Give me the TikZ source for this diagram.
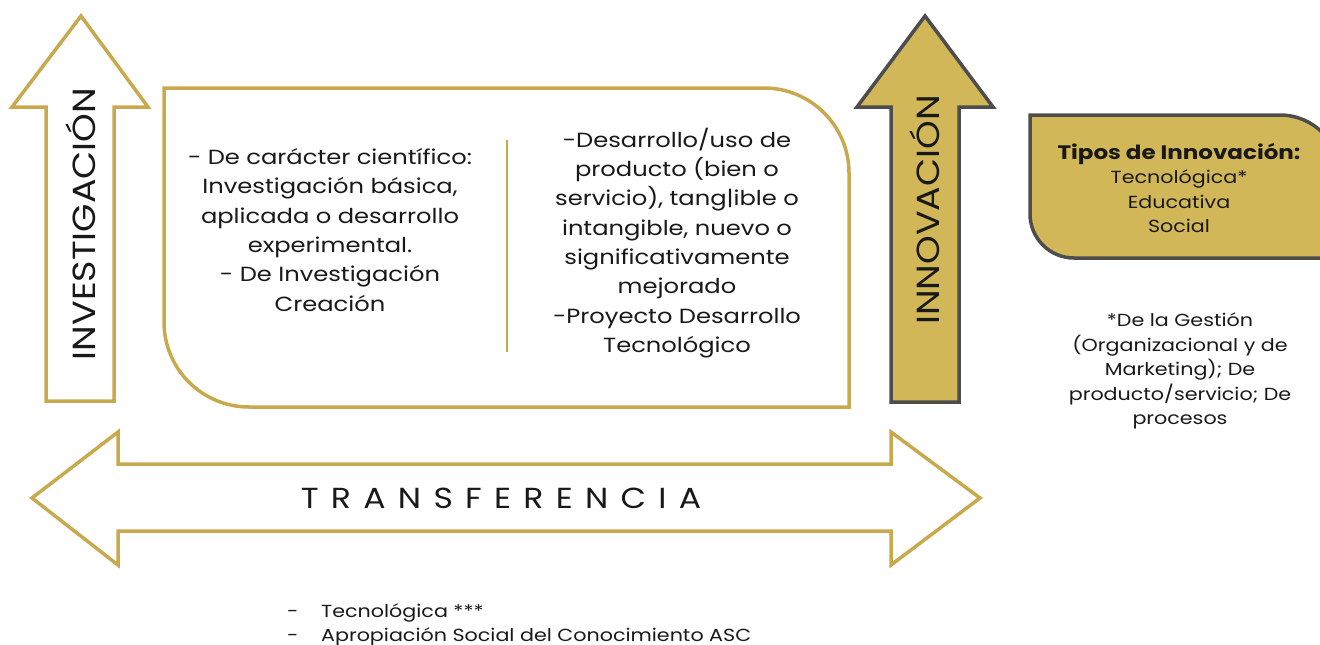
\documentclass[tikz,border=0pt]{standalone}
\usepackage{fontspec}
\setmainfont{Poppins}[FakeStretch=1.18]
\newfontfamily\labelfont{Poppins}[FakeStretch=1.14]
\definecolor{goldline}{RGB}{201,169,77}
\definecolor{goldfill}{RGB}{209,183,88}
\definecolor{darkline}{RGB}{77,77,77}
\definecolor{txt}{RGB}{25,25,25}
\newcommand\lsp{\hspace{12.3pt}}
\begin{document}
\begin{tikzpicture}[x=1pt,y=1pt,
  goldshape/.style={draw=goldline,line width=3.5pt,fill=white,line join=miter},
  darkshape/.style={draw=darkline,line width=3.5pt,fill=goldfill,line join=miter},
  bodytext/.style={text=txt,align=center,inner sep=0pt,font=\fontsize{20.5}{29.3}\selectfont},
  smalltext/.style={text=txt,align=center,inner sep=0pt,font=\fontsize{17.5}{24.4}\selectfont},
  biglabel/.style={text=txt,inner sep=0pt,rotate=90,font=\labelfont\fontsize{32}{32}\selectfont}]
\useasboundingbox (0,0) rectangle (1320,-645);
\clip (0,0) rectangle (1320,-645);
% left arrow
\draw[goldshape] (81,-16) -- (148,-107) -- (114,-107) -- (114,-401) -- (46,-401) -- (46,-107) -- (12,-107) -- cycle;
\node[biglabel] (inv) at (81,-224) {INVESTIGACIÓN};
% centre box
\draw[goldshape] (164,-88) -- (764,-88) arc[start angle=90,end angle=0,radius=85pt] -- (849,-407) -- (249,-407) arc[start angle=270,end angle=180,radius=85pt] -- cycle;
\draw[draw=goldline,line width=2.5pt] (507,-140) -- (507,-352);
\node[bodytext] (left) at (330,-230) {- De carácter científico:\\Investigación básica,\\aplicada o desarrollo\\experimental.\\- De Investigación\\Creación};
\node[bodytext] (right) at (677,-243) {-Desarrollo/uso de\\producto (bien o\\servicio), tang|ible o\\intangible, nuevo o\\significativamente\\mejorado\\-Proyecto Desarrollo\\Tecnológico};
% right arrow
\draw[darkshape] (925,-16) -- (993,-107) -- (959,-107) -- (959,-402) -- (891,-402) -- (891,-107) -- (857,-107) -- cycle;
\node[biglabel,font=\labelfont\fontsize{32}{32}\selectfont] (inn) at (925,-210) {INNOVACIÓN};
% tipos box
\draw[darkshape] (1030,-115) -- (1280,-115) arc[start angle=90,end angle=0,radius=60pt] -- (1340,-258) -- (1074,-258) arc[start angle=270,end angle=180,radius=44pt] -- cycle;
\node[smalltext] (tipos) at (1179,-188) {{\fontsize{19.5}{24.4}\selectfont\textbf{Tipos de Innovación:}}\\Tecnológica*\\Educativa\\Social};
\node[smalltext] (nota) at (1180,-371) {*De la Gestión\\(Organizacional y de\\Marketing); De\\producto/servicio; De\\procesos};
% double arrow
\draw[goldshape] (32,-498) -- (118,-432) -- (118,-464) -- (891,-464) -- (891,-432) -- (980,-498) -- (891,-565) -- (891,-531) -- (118,-531) -- (118,-565) -- cycle;
\node[text=txt,inner sep=0pt,font=\labelfont\fontsize{29}{29}\selectfont] (trans) at (501,-498) {T\lsp R\lsp A\lsp N\lsp S\lsp F\lsp E\lsp R\lsp E\lsp N\lsp C\lsp I\lsp A};
% bullets
\node[smalltext,anchor=base west] (d1) at (287,-617) {-};
\node[smalltext,anchor=base west] (b1) at (321,-617) {Tecnológica ***};
\node[smalltext,anchor=base west] (d2) at (287,-641) {-};
\node[smalltext,anchor=base west] (b2) at (321,-641) {Apropiación Social del Conocimiento ASC};
\end{tikzpicture}
\end{document}
